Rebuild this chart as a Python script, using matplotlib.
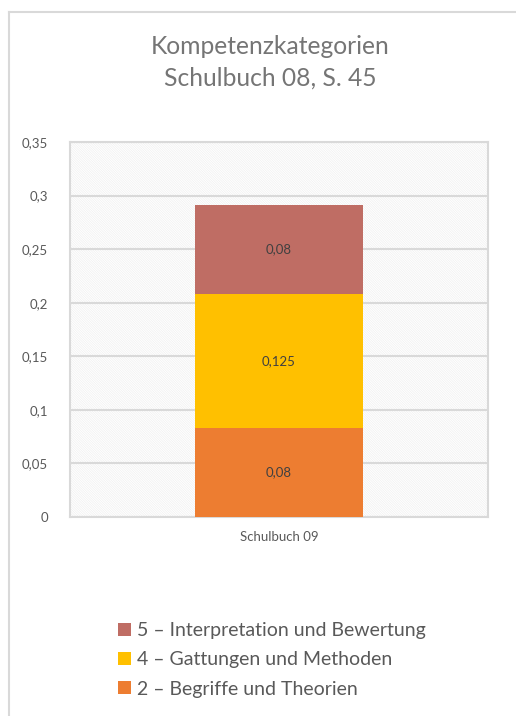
import matplotlib
matplotlib.use("Agg")
import matplotlib.pyplot as plt
from matplotlib.lines import Line2D
from matplotlib.patches import Rectangle

plt.rcParams['font.family'] = ['Lato', 'DejaVu Sans']
plt.rcParams['hatch.linewidth'] = 0.5

title = "Kompetenzkategorien\nSchulbuch 08, S. 45"
categories = ["Schulbuch 09"]
series_names = ["2 – Begriffe und Theorien",
                "4 – Gattungen und Methoden",
                "5 – Interpretation und Bewertung"]
series_values = [[0.0833], [0.125], [0.0833]]
value_labels = [["0,08"], ["0,125"], ["0,08"]]
colors = ["#ED7D31", "#FFC000", "#BF6D64"]
yticks = [0, 0.05, 0.1, 0.15, 0.2, 0.25, 0.3, 0.35]
ytick_labels = ["0", "0,05", "0,1", "0,15", "0,2", "0,25", "0,3", "0,35"]

W, H = 516, 716
fig = plt.figure(figsize=(W / 100, H / 100), dpi=100)
ax = fig.add_axes([70 / W, 1 - 517 / H, (488 - 70) / W, (517 - 142) / H])

# frame lines of the chart area (left and top)
fig.add_artist(Line2D([9 / W, 9 / W], [0, 1 - 11.5 / H], transform=fig.transFigure,
                      color="#d9d9d9", lw=1.5))
fig.add_artist(Line2D([9 / W, 1], [1 - 11.5 / H, 1 - 11.5 / H], transform=fig.transFigure,
                      color="#d9d9d9", lw=1.5))

ax.set_xlim(-0.5, 0.5)
ax.set_ylim(0, 0.35)

# patterned background
ax.add_patch(Rectangle((0, 0), 1, 1, transform=ax.transAxes, facecolor="white",
                       edgecolor="#f0f0f0", hatch="\\" * 14, lw=0, zorder=0))

ax.set_yticks(yticks)
ax.set_yticklabels(ytick_labels)
ax.yaxis.grid(True, color="#d9d9d9", lw=1.5, zorder=1)
ax.set_axisbelow(True)

x = list(range(len(categories)))
bottoms = [0.0] * len(categories)
handles = []
for name, vals, labs, col in zip(series_names, series_values, value_labels, colors):
    bars = ax.bar(x, vals, width=0.4, bottom=bottoms, color=col, label=name, zorder=3)
    for rect, lab in zip(bars, labs):
        ax.text(rect.get_x() + rect.get_width() / 2, rect.get_y() + rect.get_height() / 2,
                lab, ha="center", va="center", fontsize=9.5, color="#404040", zorder=4)
    handles.append(bars)
    bottoms = [b + v for b, v in zip(bottoms, vals)]

ax.set_xticks(x)
ax.set_xticklabels(categories)
ax.tick_params(axis="both", length=0, labelsize=9.5, colors="#595959")
ax.tick_params(axis="x", pad=10)
ax.tick_params(axis="y", pad=16)

for s in ["top", "right", "left", "bottom"]:
    ax.spines[s].set_color("#d9d9d9")
    ax.spines[s].set_linewidth(1.5)

fig.text(270 / W, 1 - 62 / H, title, ha="center", va="center", fontsize=17.7,
         color="#757575", linespacing=1.45)

leg = fig.legend(handles[::-1], series_names[::-1], loc="center",
                 bbox_to_anchor=(272 / W, 1 - 660 / H), frameon=False, fontsize=14,
                 handlelength=0.65, handleheight=0.65, handletextpad=0.3, labelspacing=0.62,
                 labelcolor="#595959")

fig.savefig("out.png", dpi=100)
